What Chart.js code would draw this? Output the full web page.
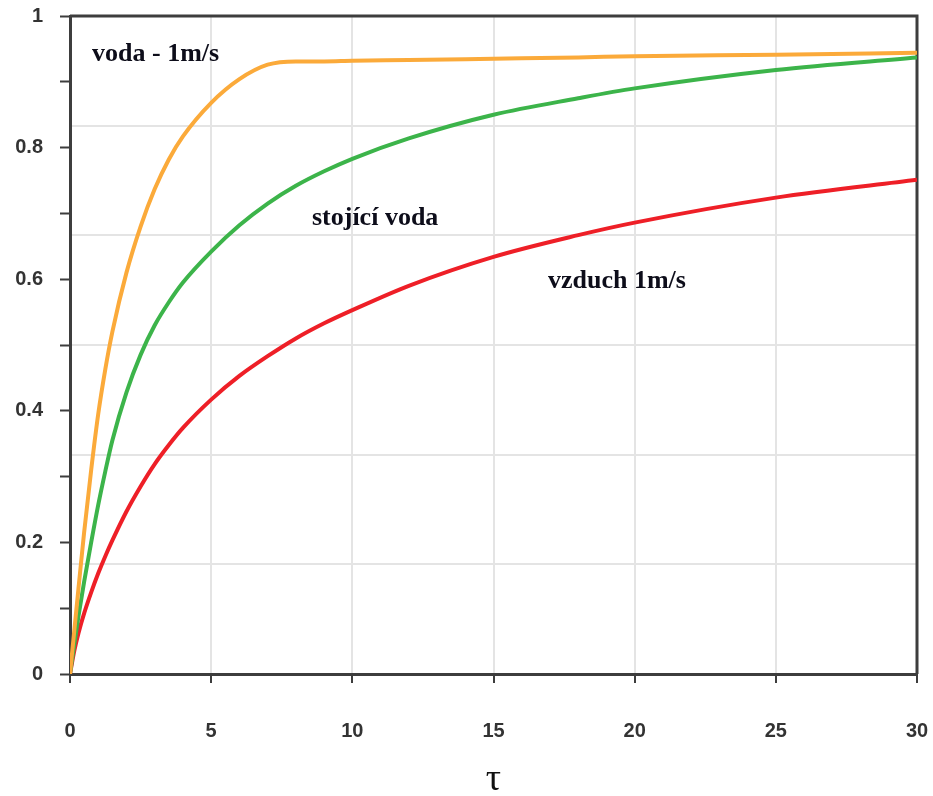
<!DOCTYPE html>
<html>
<head>
<meta charset="utf-8">
<script src="https://cdn.jsdelivr.net/npm/chart.js@4.4.1/dist/chart.umd.min.js"></script>
<style>
  html, body { margin: 0; padding: 0; background: #ffffff; }
  #wrap { width: 933px; height: 796px; position: relative; }
</style>
</head>
<body>
<div id="wrap"><canvas id="c" width="933" height="796"></canvas></div>
<script>
// ---- data ----
const tau = [0, 0.15, 0.3, 0.5, 0.75, 1, 1.25, 1.5, 2, 2.5, 3, 3.5, 4, 5, 6, 7, 8, 9, 10, 12, 15, 18, 20, 25, 30];
const vodaFlow = [0, 0.065, 0.13, 0.215, 0.31, 0.395, 0.463, 0.52, 0.61, 0.68, 0.737, 0.782, 0.817, 0.868, 0.904, 0.926, 0.931, 0.931, 0.932, 0.933, 0.935, 0.937, 0.939, 0.941, 0.944];
const vodaStill = [0, 0.045, 0.088, 0.14, 0.2, 0.257, 0.308, 0.355, 0.428, 0.485, 0.53, 0.565, 0.595, 0.642, 0.682, 0.715, 0.742, 0.764, 0.783, 0.814, 0.85, 0.875, 0.89, 0.918, 0.937];
const vzduch = [0, 0.035, 0.062, 0.092, 0.124, 0.153, 0.179, 0.203, 0.247, 0.285, 0.319, 0.348, 0.374, 0.417, 0.453, 0.483, 0.51, 0.533, 0.553, 0.59, 0.634, 0.667, 0.686, 0.724, 0.751];
const seriesNames = ['voda - 1m/s', 'stojící voda', 'vzduch 1m/s'];
const xTickStep = 5;
const yTickStep = 0.1;
// text labels placed in data coordinates: [text, tau, value]
const notes = [
  ['voda - 1m/s', 0.78, 0.932],
  ['stojící voda', 8.57, 0.682],
  ['vzduch 1m/s', 16.93, 0.587]
];

const toXY = arr => arr.map((v, i) => ({ x: tau[i], y: v }));
const AXIS = '#3d3d3d';

const framePlugin = {
  id: 'frame',
  beforeDatasetsDraw(chart) {
    const { ctx, chartArea: a } = chart;
    ctx.save();
    ctx.strokeStyle = AXIS;
    ctx.lineWidth = 3;
    ctx.beginPath();
    ctx.moveTo(a.left, a.top);
    ctx.lineTo(a.right, a.top);
    ctx.lineTo(a.right, a.bottom);
    ctx.stroke();
    ctx.restore();
  },
  afterDatasetsDraw(chart) {
    const { ctx } = chart;
    const xs = chart.scales.x, ys = chart.scales.y;
    ctx.save();
    ctx.fillStyle = '#0d0d1a';
    ctx.font = 'bold 26px "Liberation Serif", "Times New Roman", serif';
    ctx.textAlign = 'left';
    ctx.textBaseline = 'alphabetic';
    notes.forEach(([t, xv, yv]) => {
      ctx.fillText(t, xs.getPixelForValue(xv), ys.getPixelForValue(yv));
    });
    ctx.restore();
  }
};

const tickFont = { family: '"Liberation Sans", Arial, sans-serif', size: 20, weight: 'bold' };

new Chart(document.getElementById('c'), {
  type: 'line',
  data: {
    datasets: [
      { label: seriesNames[0], data: toXY(vodaFlow), borderColor: '#fbaa3a' },
      { label: seriesNames[1], data: toXY(vodaStill), borderColor: '#3cb44a' },
      { label: seriesNames[2], data: toXY(vzduch), borderColor: '#ee1f27' }
    ].map(d => Object.assign(d, { borderWidth: 4, pointRadius: 0, cubicInterpolationMode: 'monotone', fill: false }))
  },
  options: {
    responsive: false,
    animation: false,
    devicePixelRatio: 1,
    layout: { padding: { top: 16, right: 16, left: 0, bottom: 0 } },
    plugins: { legend: { display: false }, tooltip: { enabled: false } },
    scales: {
      x: {
        type: 'linear',
        min: 0, max: 30,
        ticks: { stepSize: xTickStep, color: '#333', font: tickFont, padding: 36 },
        grid: { color: '#e4e4e4', lineWidth: 2, tickColor: AXIS, tickWidth: 2, tickLength: 9 },
        border: { display: true, color: AXIS, width: 3 },
        title: { display: true, text: 'τ', color: '#111', padding: { top: 0, bottom: 0 },
                 font: { family: '"Liberation Serif", "Times New Roman", serif', size: 38, lineHeight: 0.85 } },
        afterFit(s) { s.height = 122; s.paddingLeft = 0; s.paddingRight = 0; }
      },
      y: {
        type: 'linear',
        min: 0, max: 1,
        ticks: {
          stepSize: yTickStep, color: '#333', font: tickFont, padding: 17,
          callback(v) {
            const k = Math.round(v * 10);
            if (k % 2 !== 0) return '';
            if (k === 0) return '0';
            if (k === 10) return '1';
            return (k / 10).toFixed(1);
          }
        },
        grid: { drawOnChartArea: false, tickColor: AXIS, tickWidth: 2, tickLength: 10 },
        border: { display: true, color: AXIS, width: 3 },
        afterFit(s) { s.width = 70; s.paddingTop = 0; s.paddingBottom = 0; }
      },
      yg: {
        type: 'linear',
        position: 'left',
        min: 0, max: 1,
        ticks: { display: false, count: 7 },
        grid: { drawTicks: false, color: '#e4e4e4', lineWidth: 2 },
        border: { display: false },
        afterFit(s) { s.width = 0; s.paddingTop = 0; s.paddingBottom = 0; }
      }
    }
  },
  plugins: [framePlugin]
});
</script>
</body>
</html>
